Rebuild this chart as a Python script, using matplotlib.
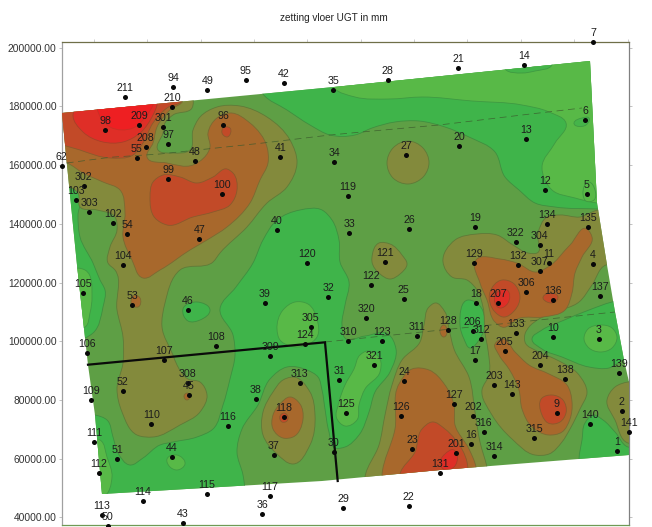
import numpy as np
import matplotlib
matplotlib.use("Agg")
import matplotlib.pyplot as plt
from matplotlib.patches import PathPatch, Polygon
from matplotlib.path import Path

plt.rcParams['font.family'] = ['Liberation Sans', 'DejaVu Sans']

TITLE = "zetting vloer UGT in mm"

# survey points (label, column, row on the scan)
point_labels = ["211","94","49","95","42","35","210","98","209","301","96","97","208","55","48","41","62","99","302","100","103","303","102","54","47","40","104","120",
                "7","14","21","28","6","13","20","34","27","119","12","5","33","26","19","134","135","322","304","121","129","132","4","11","307",
                "122","25","32","18","207","306","136","137","320","128","206","312","133","10","3","311","310","123","205","17","204","321","139","31","24","138","203","143","127","2","125","126","202","9","140","316","141","315","16","23","30","201","1","314","131","29","22",
                "105","53","39","46","305","124","108","106","107","309","308","313","52","45","109","38","118","110","116","111","37","44","51","112","114","115","117","36","113","43","50"]
point_col = [125.3,173,207.3,245.7,284,333,172,105.3,139,163.3,223.3,168.3,145.7,136.7,195,280.3,61.7,168.3,83.7,222.3,76,89,113,127.3,199.3,276.7,122.7,307,
             593,524.3,458.3,387.7,585,526,459,334.3,406,347.7,544.7,587,349.3,409.3,475.3,546.7,588.3,515.7,539.7,384.7,474.3,518,592.7,548.7,539.7,
             371,403.7,328.3,476,498,526.3,552.7,600.3,366.3,448,472.7,481.3,515.7,552.7,599,417,348,382,504.7,475.3,540,374.3,619,339,404.3,565.3,494.3,512.3,453.7,621.7,346.3,401,473,557,590,483.7,628.7,534.3,471.3,412.3,334,456,617,494.3,440,343,408.7,
             83,132,265,187.7,310.7,305.3,216,87,164.3,270.3,187.7,299.7,122.7,189,90.7,255.7,283.7,151.3,228,94.3,273.7,171.7,117,98.7,142.7,207,270,262.3,101.7,183,107.7]
point_row = [97,87.3,89.7,80,83.3,90.3,106.7,130,125.3,127,125.3,144,146.7,157.7,161.3,156.7,166.3,179,186,194.3,199.7,212.3,222.7,234,239,229.7,265,263.3,
             42.3,64.7,67.7,80,119.7,138.7,145.7,162.3,154.7,195.7,190.3,194.3,233.3,229.3,227.3,224.3,227.3,241.7,244.7,262,263.3,265,264.3,263.3,271,
             284.7,299,296.7,303,303,292,299.7,296.3,318,330,331.3,339,332.7,336.7,339,335.7,341.3,340.7,350.7,359.7,365,365,372.7,380.3,381,379,385.3,394,403.7,411.3,413,416.3,416.3,412.7,424,432,432.3,438,444,449.3,451.7,453.3,451,455.7,473,508,506.3,
             292.7,304.7,302.7,309.7,326.7,343.7,346.3,353,360.3,356.3,383,382.7,390.7,394.7,400,398.7,416.7,424.3,426.3,441.7,454.7,457.3,459.3,472.7,500.7,494.3,496.3,514.3,515.3,523,526]

# outline of the surveyed area
area_outline = [(62,113),(334,87),(590,61),(597,203),(607,265),(615,312),(624,360),(629,382),(629,455),(440,470),(322,481),(102,494),(95,415),(88,365),(77,265),(67,165)]

# settlement bands: isolines, lowest band first
band_low = [
    [(334,88),(355,97),(389,99),(422,97),(472,101),(522,105),(549,112),(566,123),(555,143),(542,167),(552,190),(575,198),(597,203),(625,204),(625,50),(334,50)],
    [(584,339),(588,329),(600,325),(612,328),(617,337),(612,348),(600,352),(589,348)],
    [(367,351),(380,359),(380,372),(365,389),(359,405),(357,420),(345,426),(337,419),(339,402),(345,385),(354,369),(360,355)],
    [(277,329),(283,310),(295,302),(308,304),(317,319),(317,337),(307,345),(290,346),(280,340)],
    [(167,459),(177,455),(185,464),(177,470),(170,467)],
    [(92,438),(100,440),(107,457),(112,477),(103,497),(90,497)],
    [(72,268),(85,270),(92,297),(90,313),(85,327),(72,327)],
    [(583,194),(589,182),(595,190),(594,200),(586,201)],
]
band_mid = [
    [(263,94),(287,110),(310,125),(330,135),(355,135),(372,128),(395,122),(419,121),(445,127),(469,137),(495,152),(505,177),(519,190),(535,203),(555,207),(599,209),(625,210),(625,40),(263,40)],
    [(70,187),(80,193),(78,215),(80,237),(93,263),(100,280),(105,290),(103,307),(93,333),(85,338),(60,338),(55,187)],
    [(253,263),(263,240),(277,220),(300,210),(322,210),(332,220),(339,240),(340,262),(349,282),(345,305),(342,325),(345,338),(365,336),(388,334),(396,349),(390,372),(375,392),(369,412),(359,435),(345,447),(335,448),(329,432),(325,409),(322,390),(318,377),(307,370),(287,367),(270,379),(258,405),(242,429),(237,452),(243,475),(245,490),(245,505),(90,510),(78,415),(95,415),(107,420),(113,437),(118,453),(130,465),(143,458),(160,445),(173,442),(197,437),(213,429),(223,405),(230,379),(235,355),(233,335),(220,309),(236,287)],
    [(612,302),(589,310),(562,321),(542,330),(532,339),(542,349),(562,357),(589,367),(609,368),(624,360),(640,360),(640,298)],
    [(579,465),(579,459),(582,440),(585,423),(593,415),(603,420),(615,432),(628,447),(640,447),(640,465)],
    [(460,325),(469,300),(479,305),(485,320),(479,340),(470,348),(464,339)],
    [(183,309),(197,302),(210,310),(200,320),(188,321)],
]
band_mid_small = [
    [(505,69),(522,73),(535,71),(552,65),(529,67)],
    [(574,123),(582,118),(589,118),(586,125)],
]
band_olive = [
    [(193,95),(192,108),(173,115),(165,123),(163,133),(158,150),(173,153),(190,150),(193,130),(200,117),(217,107),(240,106),(267,117),(290,140),(297,163),(287,187),(267,203),(247,227),(220,253),(213,262),(180,270),(165,303),(162,327),(173,355),(177,365),(188,379),(200,382),(207,395),(200,412),(180,425),(153,437),(137,435),(122,412),(117,389),(123,363),(123,337),(117,310),(115,270),(108,263),(110,247),(117,230),(115,217),(97,210),(80,207),(78,193),(72,188),(55,188),(55,95)],
    [(387,163),(393,148),(408,141),(423,148),(429,163),(424,176),(408,184),(393,178)],
    [(372,257),(379,243),(390,244),(402,255),(407,264),(400,274),(390,279),(380,274),(372,262)],
    [(443,262),(455,240),(477,234),(497,235),(513,245),(528,253),(537,253),(538,233),(547,217),(560,215),(580,217),(599,210),(612,212),(620,265),(606,265),(592,285),(579,302),(555,312),(539,319),(529,327),(525,334),(525,342),(539,352),(555,359),(579,375),(587,392),(580,409),(570,429),(562,442),(549,454),(535,455),(512,439),(492,415),(482,390),(489,375),(488,350),(485,333),(483,307),(477,290),(467,280),(452,277)],
    [(628,382),(615,387),(607,400),(615,420),(628,443),(640,443),(640,382)],
    [(365,495),(365,477),(379,445),(385,415),(392,385),(402,360),(420,342),(424,325),(429,307),(435,303),(445,312),(449,329),(454,349),(469,377),(475,412),(480,442),(487,467),(492,495)],
    [(293,377),(310,392),(315,415),(310,445),(293,464),(277,454),(263,435),(263,412),(273,392),(283,380)],
]
band_brown = [
    [(55,160),(67,163),(83,173),(103,182),(120,190),(125,213),(123,237),(132,260),(143,278),(160,270),(190,250),(207,240),(227,227),(250,203),(260,180),(268,163),(267,147),(250,123),(230,113),(217,118),(208,133),(210,147),(193,165),(167,163),(147,157),(153,143),(157,127),(170,110),(183,100),(180,90),(55,90)],
    [(135,295),(140,298),(138,307),(132,305)],
    [(184,396),(187,393),(190,397),(187,400)],
    [(476,260),(500,259),(517,263),(537,272),(548,267),(570,245),(587,229),(592,237),(582,257),(575,273),(572,293),(565,310),(543,317),(520,318),(502,327),(495,322),(487,300),(480,283)],
    [(495,344),(502,339),(515,352),(529,365),(549,374),(567,385),(572,402),(570,419),(562,432),(549,435),(532,427),(522,409),(519,390),(509,369),(499,355)],
    [(382,490),(382,475),(395,429),(399,384),(412,369),(429,370),(445,385),(454,405),(455,425),(469,449),(476,467),(476,490)],
    [(440,330),(444,325),(447,330),(444,337)],
    [(290,397),(300,404),(303,419),(293,437),(283,438),(273,429),(273,415),(280,404)],
]
band_orange = [
    [(55,140),(80,150),(110,158),(133,155),(143,143),(153,123),(167,108),(182,100),(180,90),(55,90)],
    [(150,197),(153,182),(163,175),(180,177),(197,183),(213,177),(227,169),(233,173),(237,190),(230,205),(213,212),(193,217),(167,225),(155,218)],
    [(223,128),(230,128),(227,137),(222,133)],
    [(490,292),(502,280),(513,283),(520,297),(515,310),(503,317),(495,312)],
    [(543,298),(550,293),(558,297),(555,302),(547,302)],
    [(542,398),(552,395),(563,400),(566,413),(560,422),(548,423),(542,415)],
    [(400,490),(400,474),(415,452),(422,429),(432,422),(445,429),(455,439),(467,462),(468,469),(468,490)],
    [(280,416),(284,413),(288,417),(287,421),(282,422)],
]
band_red = [
    [(73,115),(83,132),(103,142),(123,142),(140,133),(153,115),(157,105),(100,100)],
    [(495,295),(507,290),(508,303),(500,308)],
    [(440,464),(445,454),(454,450),(457,455),(454,467),(445,470)],
]
band_peak = [
    [(110,127),(133,128),(147,115),(153,105),(97,108)],
]

section_line = [(88,364.7),(325,342.3),(337.7,481)]
dashed_upper = [(66.7,163),(110,157.3),(160,154),(263,143),(330,135),(365,131.7),(439,125),(522,115),(582,108)]
dashed_lower = [(325,342),(422,332),(520,322),(615,312)]

y_ticks = [200000,180000,160000,140000,120000,100000,80000,60000,40000]

PX = 340.7
def X(c): return (np.asarray(c, float) - 62.0) * PX
def Y(r): return 200000.0 - (np.asarray(r, float) - 47.7) * PX

def smooth(poly):
    """Closed smooth curve through the isoline vertices; handle length follows the segment length."""
    p = np.column_stack([X([q[0] for q in poly]), Y([q[1] for q in poly])])
    n = len(p)
    t = np.zeros_like(p)
    for i in range(n):
        d1 = p[i] - p[i-1]; d2 = p[(i+1) % n] - p[i]
        l1 = np.hypot(*d1); l2 = np.hypot(*d2)
        tv = d1/l1*l2 + d2/l2*l1
        t[i] = tv/np.hypot(*tv)
    v = [p[0]]; c = [Path.MOVETO]
    for i in range(n):
        j = (i+1) % n
        L = np.hypot(*(p[j]-p[i]))
        v += [p[i] + t[i]*L/3, p[j] - t[j]*L/3, p[j]]
        c += [Path.CURVE4]*3
    return Path(np.array(v), c)

fig = plt.figure(figsize=(6.52, 5.27), dpi=100)
ax = fig.add_axes([62/652, 1-525/527, (628.5-62)/652, (525-42)/527])
ax.set_xlim(X(62), X(628.5))
ax.set_ylim(Y(525), Y(42))

outline = Polygon(np.column_stack([X([q[0] for q in area_outline]), Y([q[1] for q in area_outline])]),
                  closed=True, facecolor='#5E9F45', edgecolor='none', zorder=1)
ax.add_patch(outline)

stack = [(band_mid,'#3FB44A','#3f8f40'),(band_low,'#58B947','#3f9a42'),(band_mid_small,'#45B44A','#3f9a42'),
         (band_olive,'#838A3C','#5f7a38'),(band_brown,'#A8682C','#7a6a32'),(band_orange,'#C24A28','#8a5a2c'),
         (band_red,'#DF2E27','#a84028'),(band_peak,'#EE1F22','#c83026')]
z = 2
for polys, col, edge in stack:
    for poly in polys:
        pa = PathPatch(smooth(poly), facecolor=col, edgecolor=edge, linewidth=0.6, zorder=z)
        ax.add_patch(pa)
        pa.set_clip_path(outline)
    z += 1

ax.plot(X([q[0] for q in dashed_upper]), Y([q[1] for q in dashed_upper]), color='#3b5a2c', lw=0.55, dashes=(9,6), alpha=0.8, zorder=12)
ax.plot(X([q[0] for q in dashed_lower]), Y([q[1] for q in dashed_lower]), color='#3b5a2c', lw=0.55, dashes=(9,6), alpha=0.8, zorder=12)
ax.plot(X([q[0] for q in section_line]), Y([q[1] for q in section_line]), color='#0a0a0a', lw=1.6, zorder=13, solid_joinstyle='miter')

ax.scatter(X(point_col), Y(point_row), s=13, color='#080808', linewidths=0, zorder=14, clip_on=False)
for lab, c, r in zip(point_labels, point_col, point_row):
    ax.annotate(lab, (X(c), Y(r)), xytext=(0, 6.6), textcoords='offset points', ha='center', va='center',
                fontsize=7.7, color='#1c1c1c', zorder=15, annotation_clip=False)

ax.set_yticks(y_ticks)
ax.set_yticklabels([f"{v:.2f}" for v in y_ticks], fontsize=7.4, color='#333333')
ax.set_xticks(X(94 + 53.35*np.arange(11)))
ax.set_xticklabels([])
ax.tick_params(axis='y', left=True, right=True, length=2.5, width=0.5, color='#aaaaaa', pad=1.5)
ax.tick_params(axis='x', top=True, bottom=False, length=2.5, width=0.5, color='#bbbbbb')
ax.spines['left'].set_color('#a0a0a0')
ax.spines['top'].set_color('#6f6f48')
ax.spines['right'].set_color('#808080')
ax.spines['bottom'].set_color('#6f9a55')
for s in ax.spines.values():
    s.set_linewidth(0.9)

fig.text(334/652, 1-18/527, TITLE, ha='center', va='center', fontsize=7.2, color='#222222')
fig.savefig("out.png", dpi=100)
